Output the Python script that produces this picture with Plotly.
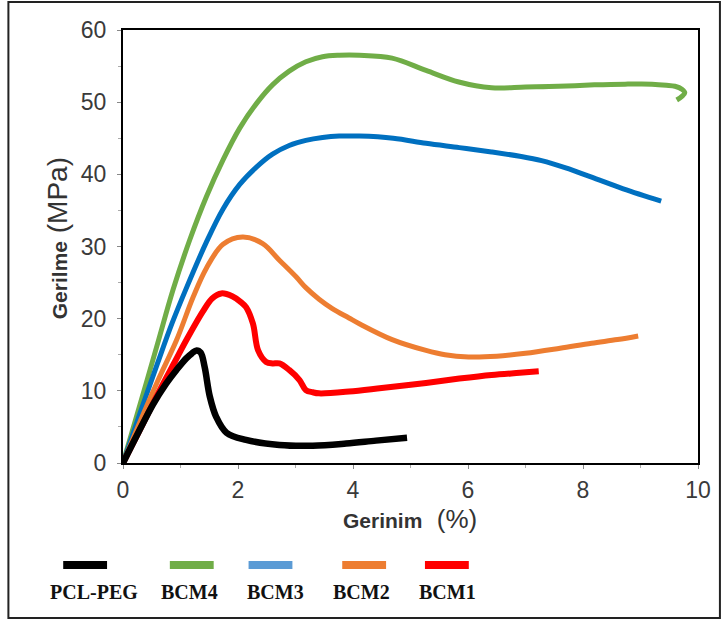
import plotly.graph_objects as go

# ---- data (strain %, stress MPa) ----
pcl_x = [0, 0.24, 0.52, 0.75, 0.93, 1.1, 1.2, 1.28, 1.35, 1.42, 1.51, 1.62, 1.8, 2.14, 2.72, 3.3, 3.88, 4.4, 4.94]
pcl_y = [0, 3.8, 8.1, 11.0, 12.9, 14.5, 15.2, 15.6, 15.3, 13.3, 9.2, 6.4, 4.2, 3.2, 2.5, 2.4, 2.7, 3.1, 3.5]

bcm4_x = [0, 0.3, 0.6, 0.87, 1.16, 1.45, 1.74, 2.03, 2.32, 2.6, 2.89, 3.18, 3.47, 3.76, 4.11, 4.68, 5.27,
          5.84, 6.41, 7.0, 7.57, 8.2, 8.73, 9.2, 9.45, 9.6, 9.72, 9.77, 9.72, 9.63]
bcm4_y = [0, 8.2, 16.5, 24.0, 30.9, 36.9, 42.0, 46.4, 49.8, 52.4, 54.3, 55.6, 56.3, 56.5, 56.5, 56.1, 54.4,
          52.8, 52.0, 52.1, 52.2, 52.4, 52.5, 52.5, 52.35, 52.2, 51.8, 51.3, 50.8, 50.3]

bcm3_x = [0, 0.3, 0.6, 0.85, 1.10, 1.45, 1.74, 2.03, 2.32, 2.6, 2.89, 3.18, 3.47, 3.76, 4.11, 4.7, 5.27,
          5.85, 6.41, 6.9, 7.28, 7.7, 8.15, 8.7, 9.36]
bcm3_y = [0, 7.0, 13.8, 19.3, 24.2, 30.6, 35.2, 38.6, 41.0, 42.8, 44.0, 44.7, 45.1, 45.3, 45.3, 45.0, 44.3,
          43.7, 43.1, 42.5, 41.9, 40.9, 39.6, 38.0, 36.3]

bcm2_x = [0, 0.3, 0.6, 0.93, 1.22, 1.45, 1.74, 2.08, 2.43, 2.72, 3.01, 3.18, 3.41, 3.64, 3.93, 4.11, 4.68,
          5.27, 5.6, 6.01, 6.5, 7.0, 7.6, 8.15, 8.6, 8.96]
bcm2_y = [0, 5.8, 11.3, 17.0, 23.0, 27.0, 30.3, 31.3, 30.4, 28.1, 25.8, 24.3, 22.7, 21.4, 20.1, 19.3, 17.1,
          15.6, 15.0, 14.7, 14.8, 15.2, 15.9, 16.6, 17.1, 17.6]

bcm1_x = [0, 0.35, 0.64, 0.9, 1.10, 1.39, 1.55, 1.71, 1.9, 2.05, 2.14, 2.26, 2.35, 2.49, 2.6, 2.72, 2.89,
          3.07, 3.18, 3.3, 3.41, 3.93, 4.5, 5.27, 5.85, 6.41, 6.9, 7.23]
bcm1_y = [0, 5.5, 10.1, 14.0, 17.0, 21.0, 22.8, 23.5, 23.1, 22.3, 21.6, 19.3, 15.6, 14.0, 13.8, 13.8, 12.9,
          11.5, 10.1, 9.8, 9.65, 9.9, 10.4, 11.1, 11.7, 12.2, 12.5, 12.7]

names = ["PCL-PEG", "BCM4", "BCM3", "BCM2", "BCM1"]
line_colors = ["#000000", "#70AD47", "#0070C0", "#ED7D31", "#FF0000"]
legend_colors = ["#000000", "#70AD47", "#5B9BD5", "#ED7D31", "#FF0000"]
widths = [6.5, 5, 5, 5, 6]
xs = [pcl_x, bcm4_x, bcm3_x, bcm2_x, bcm1_x]
ys = [pcl_y, bcm4_y, bcm3_y, bcm2_y, bcm1_y]

x_ticks = [0, 2, 4, 6, 8, 10]
y_ticks = [0, 10, 20, 30, 40, 50, 60]

fig = go.Figure()
# draw order: back to front (green, blue, orange, red, black on top)
for i in [1, 2, 3, 4, 0]:
    fig.add_trace(go.Scatter(
        x=xs[i], y=ys[i], mode="lines", name=names[i],
        line=dict(color=line_colors[i], width=widths[i], shape="spline", smoothing=1.0),
        showlegend=False))

W, H = 723, 623
L, R, T, B = 123, 23, 30, 160
pw, ph = W - L - R, H - T - B

def px(xp):
    return (xp - L) / pw

def py(yp):
    return (H - B - yp) / ph

shapes = []
annotations = []
# custom legend: sample bar above label
sample_cx = [85, 192, 271, 365, 448]
label_cx = [94, 190, 276, 362, 449]
for i, n in enumerate(names):
    shapes.append(dict(type="rect", xref="paper", yref="paper",
                       x0=px(sample_cx[i] - 22), x1=px(sample_cx[i] + 22),
                       y0=py(569), y1=py(561),
                       fillcolor=legend_colors[i], line=dict(width=0)))
    annotations.append(dict(xref="paper", yref="paper", x=px(label_cx[i]), y=py(592),
                            text="<b>" + n + "</b>", showarrow=False,
                            xanchor="center", yanchor="middle",
                            font=dict(family="Liberation Serif", size=20, color="#111111")))

# outer frame
shapes.append(dict(type="rect", xref="paper", yref="paper",
                   x0=px(8), x1=px(722), y0=py(618), y1=py(2),
                   line=dict(color="#222222", width=2), fillcolor="rgba(0,0,0,0)"))

# axis titles
annotations.append(dict(xref="paper", yref="paper", x=px(57), y=py(238), textangle=-90,
                        text="<b><span style='font-size:21px'>Gerilme</span></b> (MPa)",
                        showarrow=False, xanchor="center", yanchor="middle",
                        font=dict(family="Liberation Sans", size=28, color="#333333")))
annotations.append(dict(xref="paper", yref="paper", x=px(411), y=py(519),
                        text="<b><span style='font-size:21px'>Gerinim</span></b>  (%)",
                        showarrow=False, xanchor="center", yanchor="middle",
                        font=dict(family="Liberation Sans", size=26, color="#333333")))

fig.update_layout(
    width=W, height=H,
    margin=dict(l=L, r=R, t=T, b=B),
    paper_bgcolor="white", plot_bgcolor="white",
    shapes=shapes, annotations=annotations,
    xaxis=dict(range=[0, 10], tickvals=x_ticks, showgrid=False, zeroline=False,
               showline=True, linecolor="black", linewidth=2, mirror=True,
               ticks="outside", ticklen=4, tickcolor="#888888", tickwidth=1,
               ticklabelstandoff=1,
               minor=dict(dtick=1, ticks="outside", ticklen=3, tickcolor="#aaaaaa", showgrid=False),
               tickfont=dict(family="Liberation Sans", size=23, color="#3a3a3a")),
    yaxis=dict(range=[0, 60], tickvals=y_ticks, showgrid=False, zeroline=False,
               showline=True, linecolor="black", linewidth=2, mirror=True,
               ticks="outside", ticklen=4, tickcolor="#888888", tickwidth=1,
               ticklabelstandoff=6,
               minor=dict(dtick=5, ticks="outside", ticklen=3, tickcolor="#aaaaaa", showgrid=False),
               tickfont=dict(family="Liberation Sans", size=23, color="#3a3a3a")),
)

fig.write_html("out.html", config={"displayModeBar": False},
               post_script="document.body.style.margin='0px';")
